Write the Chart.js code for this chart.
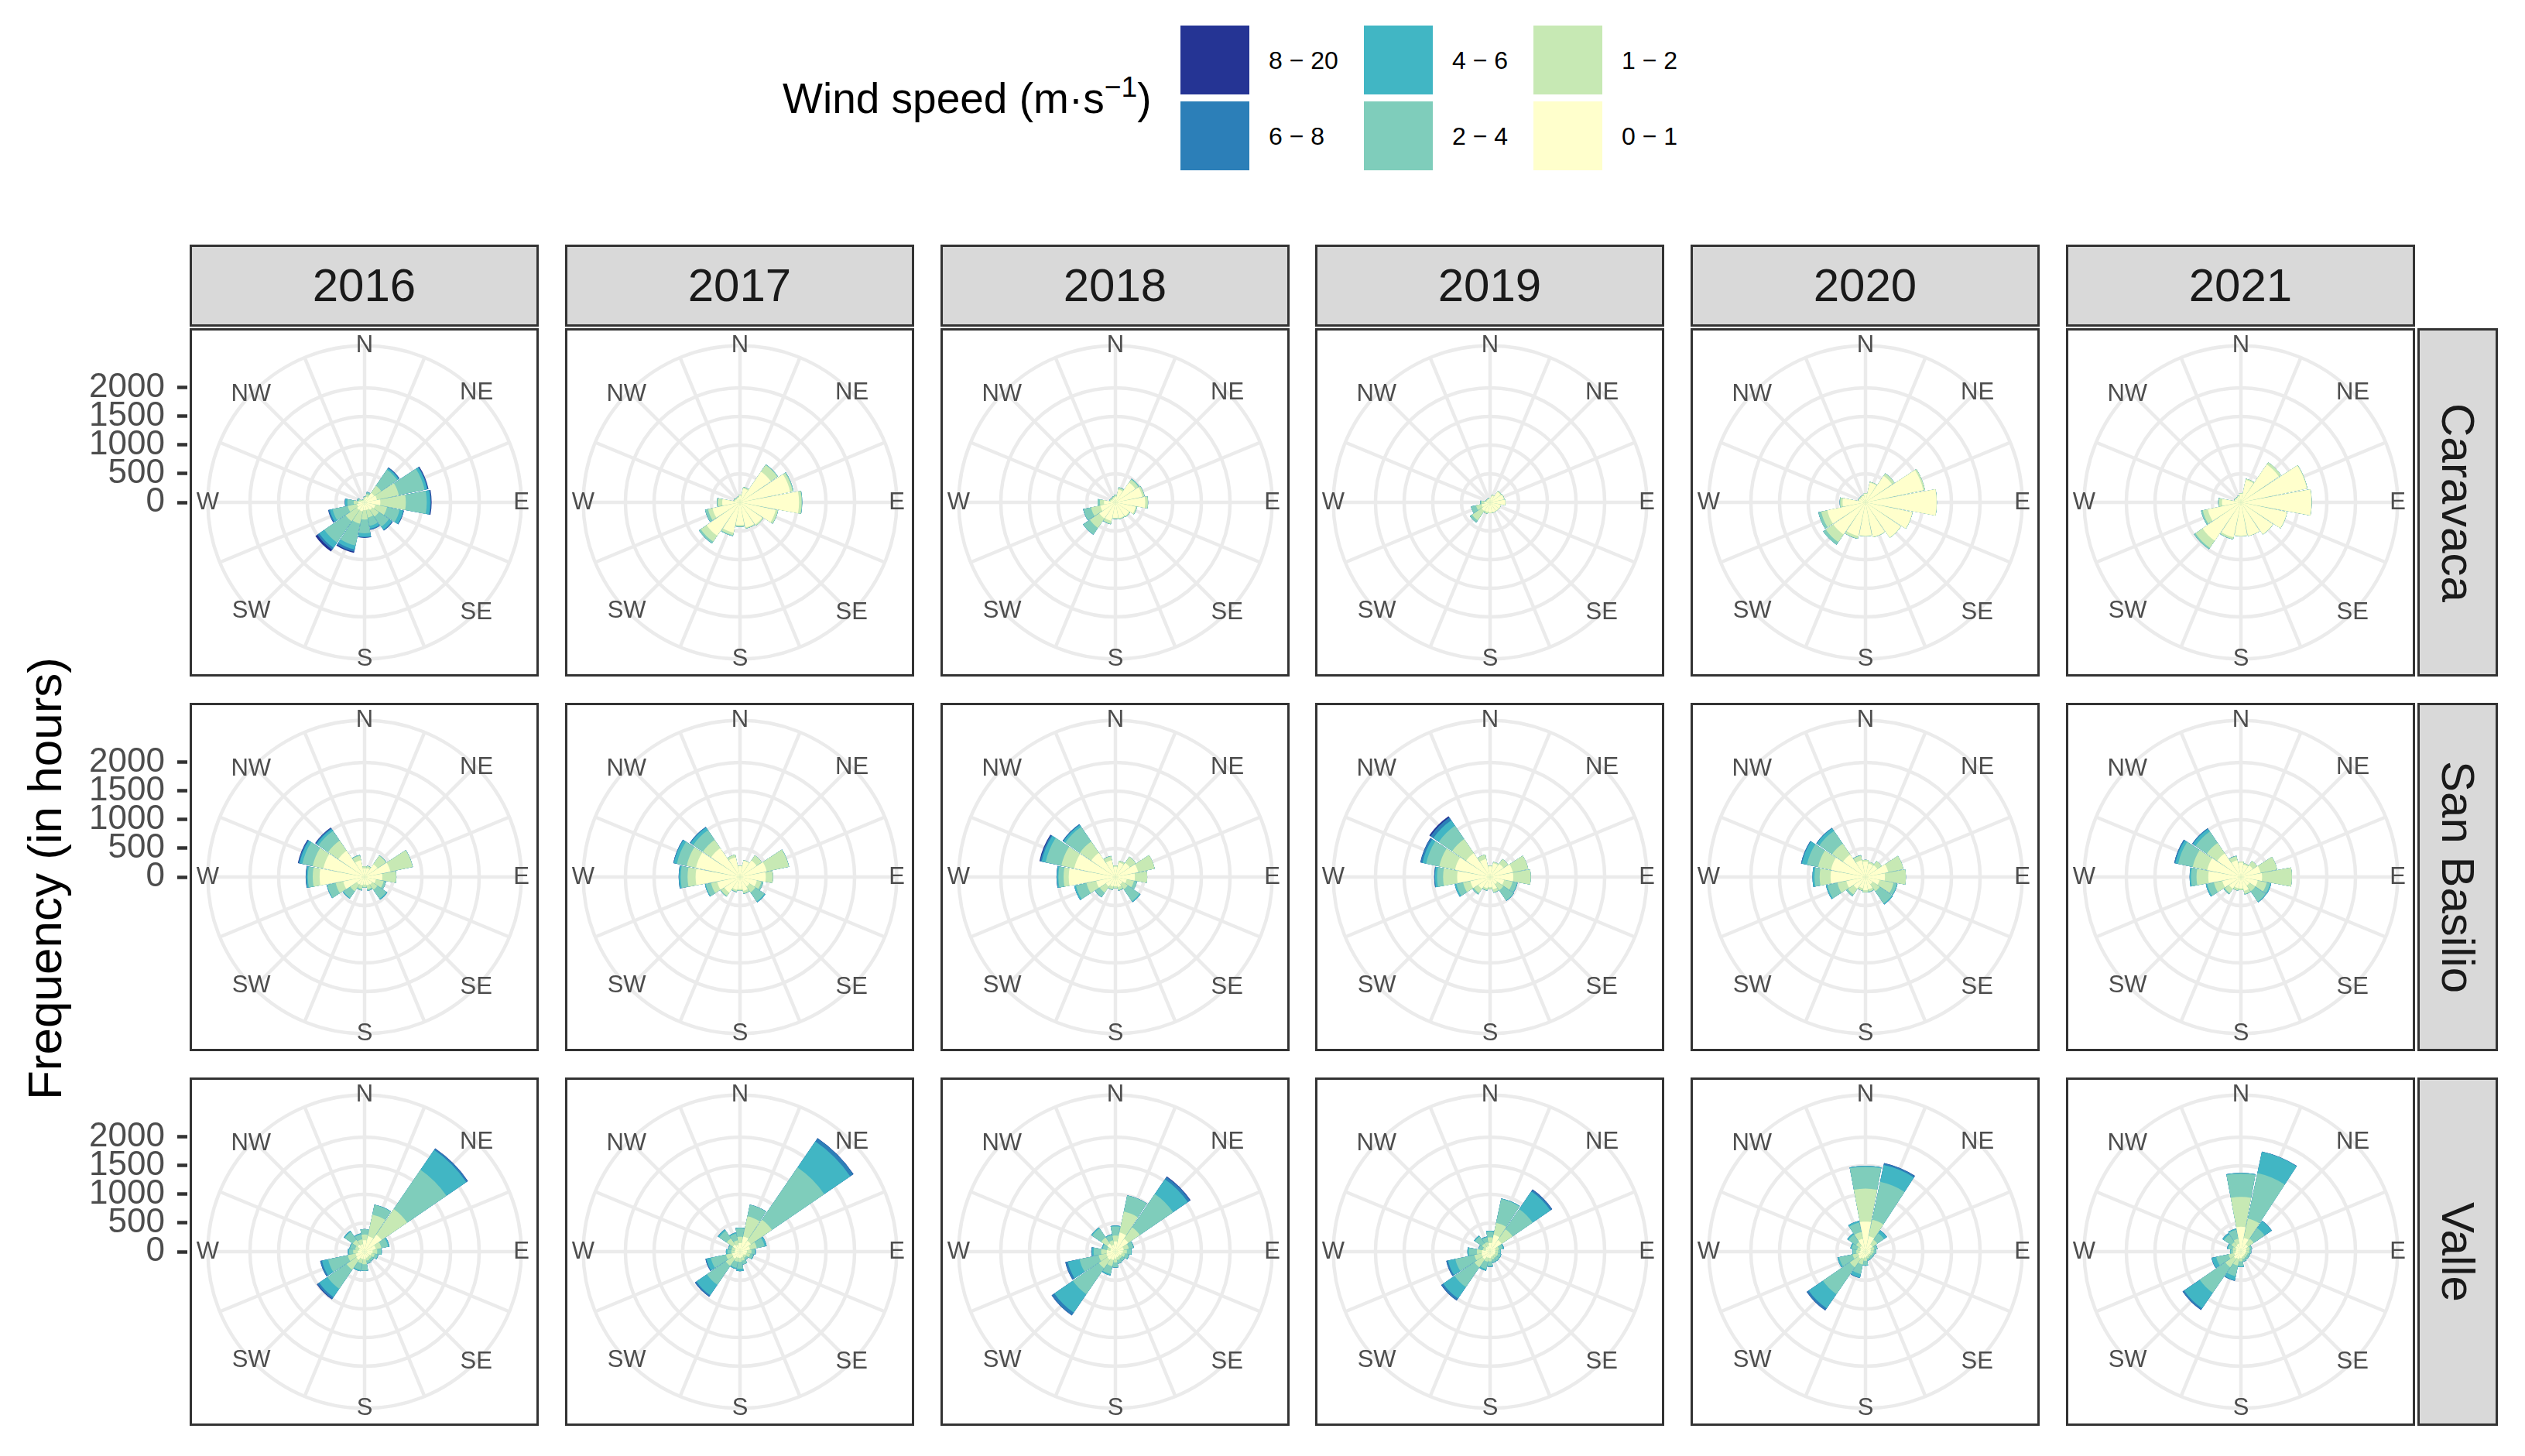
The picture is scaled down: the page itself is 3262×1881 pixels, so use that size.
<!DOCTYPE html>
<html lang="en">
<head>
<meta charset="utf-8">
<title>Wind roses</title>
<script src="https://cdn.jsdelivr.net/npm/chart.js"></script>
<style>
  html, body { margin:0; padding:0; background:#ffffff; }
  body { position:relative; width:3262px; height:1881px; overflow:hidden;
         font-family:"Liberation Sans", Arial, Helvetica, sans-serif; }
  canvas { position:absolute; }
  .strip { position:absolute; box-sizing:border-box; background:#D9D9D9; border:3.5px solid #333333;
           display:flex; align-items:center; justify-content:center; font-size:60px; color:#1A1A1A; line-height:1; }
  .strip.side { writing-mode:vertical-rl; }
  .frame { position:absolute; box-sizing:border-box; border:3.5px solid #333333; pointer-events:none; z-index:2; }
  .ytitle { position:absolute; white-space:nowrap; font-size:62px; color:#000; line-height:1;
            transform:translate(-50%,-50%) rotate(-90deg); }
  .ltitle { position:absolute; white-space:nowrap; font-size:55px; color:#000; line-height:1; transform:translateY(-50%); }
  .ltitle sup { font-size:0.68em; vertical-align:0.55em; line-height:0; }
  .lkey { position:absolute; }
  .llab { position:absolute; font-size:32px; color:#000; white-space:nowrap; line-height:1; transform:translateY(-50%); }
</style>
</head>
<body>
<div id="root"></div>
<script>
// ================= DATA =================
const YEARS = [2016, 2017, 2018, 2019, 2020, 2021];
const SITES = ['Caravaca', 'San Basilio', 'Valle'];
const DIRECTIONS = ['N','NNE','NE','ENE','E','ESE','SE','SSE','S','SSW','SW','WSW','W','WNW','NW','NNW'];
const DIRECTION_LABELS = ['N','','NE','','E','','SE','','S','','SW','','W','','NW',''];
const SPEED_BINS = ['0 \u2212 1','1 \u2212 2','2 \u2212 4','4 \u2212 6','6 \u2212 8','8 \u2212 20'];
const BIN_COLORS = ['#FFFFCC','#C7E9B4','#7FCDBB','#41B6C4','#2C7FB8','#253494'];
const FREQ_TICKS = [0, 500, 1000, 1500, 2000];

// hours per direction (rows: N..NNW) and speed class (cols: 0-1,1-2,2-4,4-6,6-8,8-20)
const caravaca2016 = [
 [60,30,10,0,0,0],[100,50,30,5,0,0],[200,150,340,30,15,5],[220,390,460,45,15,10],
 [275,445,365,60,15,10],[190,210,225,65,10,2],[160,140,215,65,15,3],[135,135,150,50,18,2],
 [135,165,240,60,15,5],[160,220,390,70,40,20],[160,240,450,110,40,40],[135,165,270,50,25,5],
 [110,80,110,40,5,0],[60,40,30,5,0,0],[40,15,5,0,0,0],[40,15,5,0,0,0]];
const caravaca2017 = [
 [120,10,5,0,0,0],[250,20,5,0,0,0],[650,140,10,0,0,0],[895,45,15,0,0,0],
 [1030,45,10,0,0,0],[635,40,5,0,0,0],[470,20,2,0,0,0],[450,15,3,0,0,0],
 [395,25,5,0,0,0],[540,45,15,0,0,0],[705,125,35,3,0,0],[490,80,50,3,0,0],
 [310,80,10,0,0,0],[90,20,5,0,0,0],[80,15,5,0,0,0],[90,10,5,0,0,0]];
const caravaca2018 = [
 [100,25,5,0,0,0],[230,30,10,0,0,0],[420,60,20,0,0,0],[480,35,5,0,0,0],
 [520,45,5,0,0,0],[360,20,5,0,0,0],[290,15,5,0,0,0],[280,15,5,0,0,0],
 [270,15,5,0,0,0],[330,50,10,0,0,0],[340,200,140,5,0,0],[270,165,135,5,0,0],
 [200,70,40,0,0,0],[80,20,10,0,0,0],[70,20,10,0,0,0],[80,20,10,0,0,0]];
const caravaca2019 = [
 [70,10,0,0,0,0],[120,15,0,0,0,0],[225,15,2,0,0,0],[245,10,0,0,0,0],
 [262,8,0,0,0,0],[190,5,0,0,0,0],[180,5,0,0,0,0],[180,5,0,0,0,0],
 [180,10,0,0,0,0],[170,30,5,0,0,0],[180,200,45,0,0,0],[150,100,90,0,0,0],
 [100,50,20,0,0,0],[60,15,5,0,0,0],[60,10,5,0,0,0],[60,10,5,0,0,0]];
const caravaca2020 = [
 [150,10,0,0,0,0],[350,15,0,0,0,0],[560,50,2,0,0,0],[1030,30,0,0,0,0],
 [1240,5,0,0,0,0],[835,5,0,0,0,0],[745,5,0,0,0,0],[615,5,0,0,0,0],
 [585,5,0,0,0,0],[600,45,5,0,0,0],[680,160,55,0,0,0],[680,110,50,0,0,0],
 [400,40,10,0,0,0],[120,10,5,0,0,0],[110,15,5,0,0,0],[120,10,5,0,0,0]];
const caravaca2021 = [
 [150,10,0,0,0,0],[400,20,0,0,0,0],[800,45,0,0,0,0],[1175,10,0,0,0,0],
 [1230,5,0,0,0,0],[820,5,0,0,0,0],[675,5,0,0,0,0],[595,5,0,0,0,0],
 [585,5,0,0,0,0],[620,35,5,0,0,0],[810,150,30,0,0,0],[590,90,30,0,0,0],
 [330,55,10,0,0,0],[110,10,5,0,0,0],[100,10,5,0,0,0],[110,10,5,0,0,0]];

const sanBasilio2016 = [
 [150,35,5,0,0,0],[160,35,5,0,0,0],[270,180,10,0,0,0],[460,395,5,0,0,0],
 [310,240,5,0,0,0],[200,140,40,2,0,0],[160,110,190,20,0,0],[150,70,25,5,0,0],
 [130,45,15,0,0,0],[150,65,25,0,0,0],[160,140,145,15,0,0],[380,135,150,10,0,0],
 [785,120,85,25,10,3],[735,190,185,50,20,10],[555,215,205,40,20,10],[300,80,15,0,0,0]];
const sanBasilio2017 = [
 [190,10,0,0,0,0],[290,10,0,0,0,0],[350,110,0,0,0,0],[475,395,5,0,0,0],
 [450,125,0,0,0,0],[300,80,35,0,0,0],[200,125,190,20,0,0],[250,40,10,0,0,0],
 [210,25,5,0,0,0],[230,30,10,0,0,0],[330,70,15,0,0,0],[405,110,95,15,0,0],
 [775,140,120,30,5,0],[785,165,175,55,10,0],[610,175,205,55,15,0],[350,50,0,0,0,0]];
const sanBasilio2018 = [
 [180,20,0,0,0,0],[260,30,0,0,0,0],[300,130,0,0,0,0],[405,295,0,0,0,0],
 [340,215,0,0,0,0],[200,130,55,0,0,0],[150,110,250,20,0,0],[180,50,15,0,0,0],
 [160,35,5,0,0,0],[170,50,10,0,0,0],[200,130,95,5,0,0],[340,175,190,30,0,0],
 [815,90,90,25,8,0],[735,230,280,70,25,15],[510,240,310,40,15,3],[300,70,5,0,0,0]];
const sanBasilio2019 = [
 [185,15,0,0,0,0],[250,20,0,0,0,0],[280,100,0,0,0,0],[405,275,0,0,0,0],
 [405,305,0,0,0,0],[250,150,80,10,0,0],[150,130,215,10,0,0],[220,50,10,0,0,0],
 [180,30,5,0,0,0],[200,35,10,0,0,0],[250,90,30,0,0,0],[350,130,120,30,0,0],
 [575,245,105,35,15,0],[625,280,235,65,35,5],[505,295,285,115,60,25],[320,80,0,0,0,0]];
const sanBasilio2020 = [
 [270,30,0,0,0,0],[240,30,0,0,0,0],[250,90,0,0,0,0],[405,270,0,0,0,0],
 [340,365,0,0,0,0],[250,250,60,10,0,0],[150,150,260,20,0,0],[220,40,10,0,0,0],
 [230,35,5,0,0,0],[200,40,5,0,0,0],[250,120,35,0,0,0],[340,160,180,25,0,0],
 [610,190,90,35,0,0],[615,230,200,90,15,0],[475,230,270,55,10,0],[300,80,10,0,0,0]];
const sanBasilio2021 = [
 [250,20,0,0,0,0],[220,25,0,0,0,0],[250,90,0,0,0,0],[350,295,0,0,0,0],
 [370,520,0,0,0,0],[300,160,60,20,0,0],[180,120,220,15,0,0],[250,50,10,0,0,0],
 [200,25,5,0,0,0],[200,40,5,0,0,0],[250,90,25,0,0,0],[330,150,120,25,0,0],
 [570,205,95,25,0,0],[600,260,260,50,20,0],[500,220,240,55,15,0],[300,70,10,0,0,0]];

const valle2016 = [
 [200,100,90,5,0,0],[275,385,175,5,0,0],[360,540,830,420,30,5],[200,100,120,25,0,0],
 [140,80,70,10,0,0],[120,60,55,10,0,0],[100,50,45,5,0,0],[110,50,50,5,0,0],
 [130,90,110,5,0,0],[130,80,120,20,0,0],[175,205,405,175,40,10],[160,140,350,110,30,2],
 [120,80,70,20,0,0],[100,70,90,10,0,0],[150,100,170,20,0,0],[130,90,90,15,0,0]];
const valle2017 = [
 [150,110,150,10,0,0],[270,360,205,3,0,0],[230,445,1105,550,65,5],[180,120,140,35,0,0],
 [120,80,60,15,0,0],[110,70,55,10,0,0],[80,50,40,5,0,0],[100,60,65,5,0,0],
 [110,70,120,40,0,0],[110,70,110,20,0,0],[150,150,400,220,30,5],[140,110,270,80,15,2],
 [90,60,70,25,0,0],[90,60,55,10,0,0],[150,130,160,30,0,0],[120,80,120,20,0,0]];
const valle2018 = [
 [180,100,160,15,0,0],[340,375,285,5,0,0],[270,245,705,310,50,10],[150,90,80,10,0,0],
 [130,70,75,10,0,0],[110,60,65,10,0,0],[90,50,55,5,0,0],[100,50,60,5,0,0],
 [120,70,80,10,0,0],[150,110,140,25,0,0],[170,180,550,390,55,5],[160,140,340,210,40,5],
 [150,100,130,30,10,0],[90,60,80,15,0,0],[170,130,190,20,0,0],[120,80,95,15,0,0]];
const valle2019 = [
 [150,100,100,15,0,0],[300,215,425,10,0,0],[245,230,425,375,35,5],[100,60,70,20,0,0],
 [90,50,40,10,0,0],[90,50,50,10,0,0],[80,50,60,10,0,0],[90,50,50,10,0,0],
 [110,60,80,15,0,0],[110,70,130,30,0,0],[160,170,420,240,40,5],[150,130,340,130,30,2],
 [140,90,140,25,0,0],[80,50,70,10,0,0],[100,70,150,20,0,0],[100,70,85,15,0,0]];
const valle2020 = [
 [525,575,380,15,0,0],[275,295,675,300,30,5],[150,100,140,60,5,0],[100,60,50,5,0,0],
 [90,50,45,5,0,0],[80,40,35,5,0,0],[70,40,40,5,0,0],[80,40,35,5,0,0],
 [100,60,75,10,0,0],[120,110,170,65,5,0],[150,180,570,300,40,5],[130,100,240,30,0,0],
 [100,60,60,10,0,0],[90,60,100,20,0,0],[120,80,160,25,0,0],[230,120,170,30,0,0]];
const valle2021 = [
 [435,520,405,15,0,0],[245,345,810,380,5,0],[150,120,230,150,5,0],[100,60,35,5,0,0],
 [90,50,35,5,0,0],[80,40,40,5,0,0],[80,40,40,5,0,0],[90,40,45,5,0,0],
 [110,60,85,15,0,0],[130,120,190,70,10,0],[150,180,540,330,30,5],[120,100,220,80,5,0],
 [90,50,40,10,0,0],[90,60,80,20,0,0],[120,80,160,30,0,0],[140,90,160,20,0,0]];

const PANELS = [
  [caravaca2016, caravaca2017, caravaca2018, caravaca2019, caravaca2020, caravaca2021],
  [sanBasilio2016, sanBasilio2017, sanBasilio2018, sanBasilio2019, sanBasilio2020, sanBasilio2021],
  [valle2016, valle2017, valle2018, valle2019, valle2020, valle2021]
];

// ================= LAYOUT / STYLE =================
const PANEL_W = 451, PANEL_H = 450;
const COL_X0 = 245, COL_STEP = 484.8;
const ROW_Y0 = 424, ROW_STEP = 484;
const STRIP_TOP = 316, STRIP_H = 106;
const SIDE_X = 3123, SIDE_W = 104;
const R_TARGET = 0.45 * PANEL_H;
const R_MAX = 2735;              // value reached at the outer grid circle
const GRID = '#EBEBEB', GRID_W = 4.5;
const LABEL_SIZE = 31;
const GAP = 1.2;                 // degrees between neighbouring sectors
const AXIS_X = 90, AXIS_W = 154, AXIS_EXTRA = 40;

const FONT = '"Liberation Sans", Arial, Helvetica, sans-serif';
Chart.defaults.font.family = FONT;
const root = document.getElementById('root');

const colX = c => Math.round(COL_X0 + c * COL_STEP);
const rowY = r => Math.round(ROW_Y0 + r * ROW_STEP);

function box(cls, left, top, width, height, html) {
  const d = document.createElement('div');
  d.className = cls;
  d.style.left = left + 'px'; d.style.top = top + 'px';
  if (width != null) d.style.width = width + 'px';
  if (height != null) d.style.height = height + 'px';
  if (html != null) d.innerHTML = html;
  root.appendChild(d);
  return d;
}
function makeCanvas(left, top, w, h) {
  const cv = document.createElement('canvas');
  cv.width = w; cv.height = h;
  cv.style.left = left + 'px'; cv.style.top = top + 'px';
  cv.style.width = w + 'px'; cv.style.height = h + 'px';
  root.appendChild(cv);
  return cv;
}

const measureCtx = document.createElement('canvas').getContext('2d');
function textWidth(t) { measureCtx.font = LABEL_SIZE + 'px ' + FONT; return measureCtx.measureText(t).width; }
function labelPadding(ctx) {
  const i = ctx.index;
  const lab = DIRECTION_LABELS[i];
  if (!lab) return -90;
  const w = textWidth(lab), h = LABEL_SIZE * 1.2;
  const deg = i * 360 / DIRECTION_LABELS.length;
  if (deg % 180 === 0) return -h / 2;
  if (deg % 90 === 0) return -w / 2;
  return -Math.SQRT1_2 * (w + h) / 2;
}

// sectors: N split in two halves (first & last), thin empty gaps between directions
const N_ELEM = 2 * DIRECTIONS.length + 1;
function sectorAngle(i) {
  const step = 360 / DIRECTIONS.length;
  if (i === 0 || i === N_ELEM - 1) return step / 2 - GAP / 2;
  return (i % 2) ? GAP : step - GAP;
}
function roseSeries(panel, bin) {
  const cum = panel.map(row => row.slice(0, bin + 1).reduce((a, b) => a + b, 0));
  const out = [cum[0]];
  for (let d = 1; d < cum.length; d++) out.push(0, cum[d]);
  out.push(0, cum[0]);
  return out;
}

function polarConfig(panel) {
  const datasets = SPEED_BINS.map((bin, b) => ({
    label: bin,
    data: roseSeries(panel, b),
    backgroundColor: BIN_COLORS[b],
    borderWidth: 0,
    rAxisID: 'r',
    angle: ctx => sectorAngle(ctx.dataIndex)
  }));
  const pl = color => ({ display: true, color: color, font: { size: LABEL_SIZE }, padding: labelPadding });
  return {
    type: 'polarArea',
    data: { labels: DIRECTION_LABELS, datasets: datasets },
    options: {
      responsive: false, maintainAspectRatio: false, animation: false, events: [], devicePixelRatio: 1,
      layout: { padding: { left: 0, right: 0, top: 0, bottom: 0 } },
      plugins: { legend: { display: false }, tooltip: { enabled: false } },
      scales: {
        r: {
          type: 'radialLinear', min: 0, max: R_MAX, startAngle: 0,
          afterBuildTicks: s => { s.ticks = FREQ_TICKS.concat([R_MAX]).map(v => ({ value: v })); },
          ticks: { display: false },
          grid: { display: true, circular: true, color: GRID, lineWidth: GRID_W },
          angleLines: { display: true, color: GRID, lineWidth: GRID_W },
          pointLabels: pl('rgba(0,0,0,0)')
        },
        r2: {
          type: 'radialLinear', min: 0, max: 1, startAngle: 0,
          ticks: { display: false },
          grid: { display: false, z: 1 },
          angleLines: { display: false },
          pointLabels: pl('#4D4D4D')
        }
      }
    }
  };
}

function fitPolar(chart, cfg) {
  const W = chart.width, H = chart.height;
  for (let it = 0; it < 6; it++) {
    const s = chart.scales.r;
    const dR = R_TARGET - s.drawingArea;
    const dx = W / 2 - s.xCenter, dy = H / 2 - s.yCenter;
    if (Math.abs(dR) < 1 && Math.abs(dx) < 1 && Math.abs(dy) < 1) break;
    const p = cfg.options.layout.padding;
    cfg.options.layout.padding = {
      left: p.left - dR + dx, right: p.right - dR - dx,
      top: p.top - dR + dy, bottom: p.bottom - dR - dy
    };
    chart.update('none');
  }
}

function makeAxis(panelTop, polar) {
  const s = polar.scales.r;
  const k = s.drawingArea / (s.max - s.min);
  const zeroY = panelTop + s.yCenter;
  const top = panelTop - AXIS_EXTRA, h = PANEL_H + 2 * AXIS_EXTRA;
  const cv = makeCanvas(AXIS_X, top, AXIS_W, h);
  const cfg = {
    type: 'scatter',
    data: { datasets: [] },
    options: {
      responsive: false, maintainAspectRatio: false, animation: false, events: [], devicePixelRatio: 1,
      layout: { padding: 0 },
      plugins: { legend: { display: false }, tooltip: { enabled: false } },
      scales: {
        x: { display: false, min: 0, max: 1 },
        y: {
          type: 'linear', position: 'left', min: -3000, max: 3000,
          afterBuildTicks: sc => { sc.ticks = FREQ_TICKS.map(v => ({ value: v })); },
          afterFit: sc => { sc.width = AXIS_W - 2; },
          grid: { drawOnChartArea: false, drawTicks: true, tickLength: 13, tickWidth: 4.5, tickColor: '#333333' },
          border: { display: false },
          ticks: { autoSkip: false, font: { size: 44 }, color: '#4D4D4D', padding: 16, callback: v => String(v) }
        }
      }
    }
  };
  const chart = new Chart(cv, cfg);
  const ys = chart.scales.y;
  cfg.options.scales.y.max = (zeroY - (top + ys.top)) / k;
  cfg.options.scales.y.min = (zeroY - (top + ys.bottom)) / k;
  chart.update('none');
}

// ================= BUILD =================
YEARS.forEach((y, c) => box('strip', colX(c), STRIP_TOP, PANEL_W, STRIP_H, String(y)));
SITES.forEach((site, r) => box('strip side', SIDE_X, rowY(r), SIDE_W, PANEL_H, site));

PANELS.forEach((rowPanels, r) => {
  rowPanels.forEach((panel, c) => {
    const left = colX(c), top = rowY(r);
    const cv = makeCanvas(left, top, PANEL_W, PANEL_H);
    const cfg = polarConfig(panel);
    const chart = new Chart(cv, cfg);
    fitPolar(chart, cfg);
    box('frame', left, top, PANEL_W, PANEL_H);
    if (c === 0) makeAxis(top, chart);
  });
});

// axis title
box('ytitle', 58, 1135, null, null, 'Frequency (in hours)');

// legend
box('ltitle', 1011, 127, null, null, 'Wind speed (m\u00B7s<sup>\u22121</sup>)');
const LEGEND_COLUMNS = [[5, 4], [3, 2], [1, 0]];
const KEY_X = [1525, 1762, 1981], KEY_Y = [33, 131], KEY_S = 89;
LEGEND_COLUMNS.forEach((bins, ci) => {
  bins.forEach((b, ri) => {
    const k = box('lkey', KEY_X[ci], KEY_Y[ri], KEY_S, KEY_S);
    k.style.background = BIN_COLORS[b];
    box('llab', KEY_X[ci] + KEY_S + 25, KEY_Y[ri] + KEY_S / 2, null, null, SPEED_BINS[b]);
  });
});
</script>
</body>
</html>
